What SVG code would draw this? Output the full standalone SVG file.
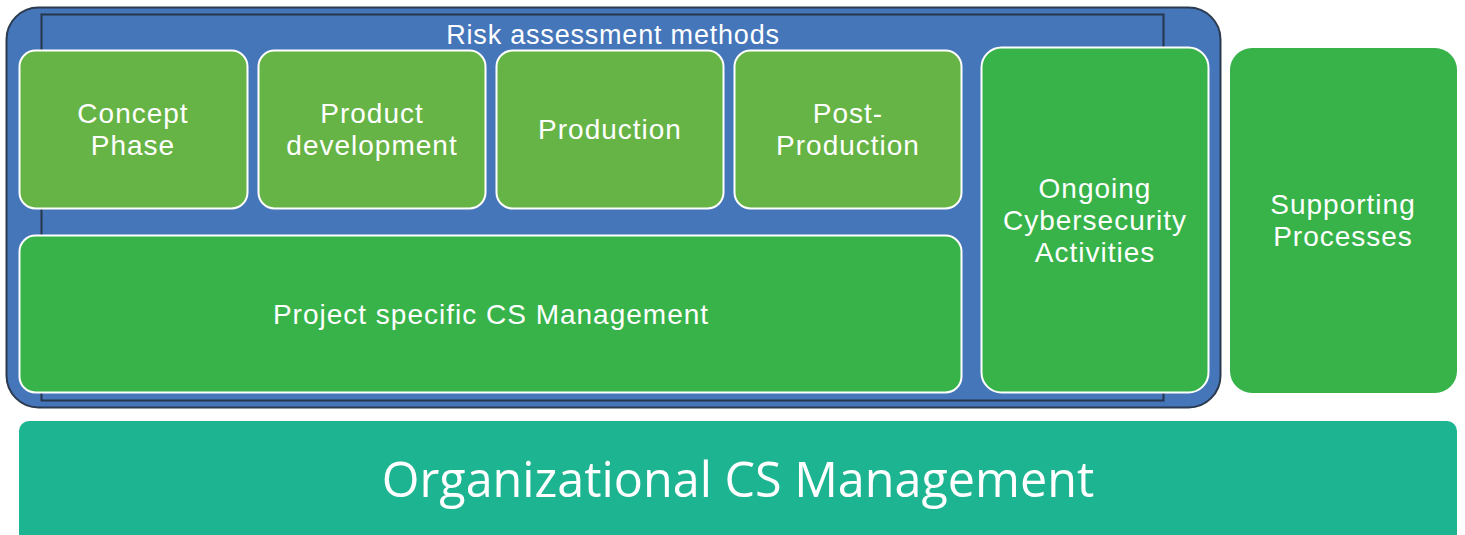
<svg xmlns="http://www.w3.org/2000/svg" width="1465" height="535" viewBox="0 0 1465 535">
<style>
.t{font-family:"Liberation Sans",Arial,sans-serif;fill:#fff;text-anchor:middle}
.n{font-size:28px;letter-spacing:1px}
.lt{fill:#66B446;stroke:#fff;stroke-width:2}
.dk{fill:#37B34A;stroke:#fff;stroke-width:2}
</style>
<rect width="1465" height="535" fill="#fff"/>
<g id="risk-assessment">
<rect x="6.5" y="7.5" width="1214" height="400" rx="32" fill="#4576BA" stroke="#2b3a4e" stroke-width="2"/>
<rect x="41.5" y="14.5" width="1122" height="386" fill="none" stroke="#26364a" stroke-width="2"/>
<text class="t" x="613" y="44" font-size="27" letter-spacing="0.8">Risk assessment methods</text>
</g>
<g id="concept-phase">
<rect class="lt" x="19.5" y="50.5" width="228" height="158" rx="16"/>
<text class="t n" x="133" y="123">Concept</text>
<text class="t n" x="133" y="155">Phase</text>
</g>
<g id="product-development">
<rect class="lt" x="258.5" y="50.5" width="227" height="158" rx="16"/>
<text class="t n" x="372" y="123">Product</text>
<text class="t n" x="372" y="155">development</text>
</g>
<g id="production">
<rect class="lt" x="496.5" y="50.5" width="227" height="158" rx="16"/>
<text class="t n" x="610" y="139">Production</text>
</g>
<g id="post-production">
<rect class="lt" x="734.5" y="50.5" width="227" height="158" rx="16"/>
<text class="t n" x="848" y="123">Post-</text>
<text class="t n" x="848" y="155">Production</text>
</g>
<g id="project-cs-management">
<rect class="dk" x="19.5" y="235.5" width="942" height="157" rx="16"/>
<text class="t n" x="491" y="324">Project specific CS Management</text>
</g>
<g id="ongoing-activities">
<rect class="dk" x="981.5" y="47.5" width="227" height="345" rx="20"/>
<text class="t n" x="1095" y="198">Ongoing</text>
<text class="t n" x="1095" y="230">Cybersecurity</text>
<text class="t n" x="1095" y="262">Activities</text>
</g>
<g id="supporting-processes">
<rect x="1230" y="48" width="227" height="345" rx="22" fill="#37B34A"/>
<text class="t n" x="1343" y="214">Supporting</text>
<text class="t n" x="1343" y="246">Processes</text>
</g>
<g id="organizational-cs-management">
<rect x="19" y="421" width="1438" height="130" rx="10" fill="#1DB591"/>
<text x="738" y="497" font-family="'Open Sans','Noto Sans',sans-serif" font-size="48.5" fill="#fff" text-anchor="middle">Organizational CS Management</text>
</g>
<g id="connectors"/>
</svg>
